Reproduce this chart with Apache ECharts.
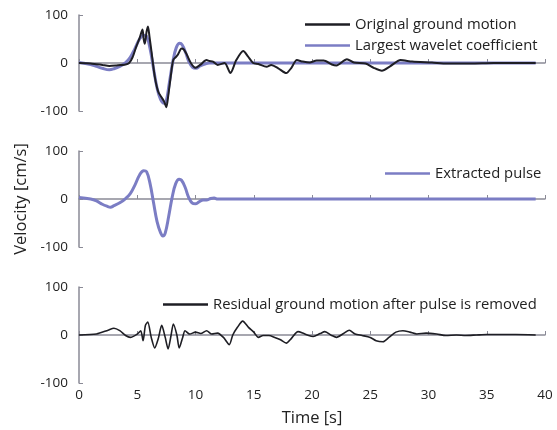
<!DOCTYPE html>
<html>
<head>
<meta charset="utf-8">
<script src="https://cdn.jsdelivr.net/npm/echarts@6/dist/echarts.min.js"></script>
<style>html,body{margin:0;padding:0;background:#fff}#c{width:557px;height:430px}</style>
</head>
<body>
<div id="c"></div>
<script>
// Time [s], velocity [cm/s]
const original = [[0,0],[1,-1],[2,-4],[2.6,-6],[3.2,-5],[4,-3],[4.3,0],[4.6,12],[4.9,33],[5.2,52],[5.45,70],[5.55,50],[5.65,40],[5.8,65],[5.92,76],[6.05,55],[6.2,28],[6.5,-28],[6.8,-60],[7.1,-72],[7.3,-80],[7.5,-92],[7.65,-70],[7.8,-42],[8.0,-5],[8.1,7],[8.3,12],[8.5,18],[8.8,30],[9.0,28],[9.2,20],[9.6,0],[10.0,-10],[10.4,-4],[10.95,6],[11.2,4],[11.5,3],[11.9,-4],[12.5,0],[13.0,-21],[13.5,6],[14.1,25],[14.5,14],[14.95,0],[15.4,-2],[16.1,-8],[16.5,-4],[17.1,-11],[17.8,-21],[18.2,-11],[18.7,6],[19.2,3],[19.8,1],[20.4,5],[21.0,5],[21.7,-3],[22.1,-5],[23.0,8],[23.6,1],[24.6,-1],[25.3,-10],[26.0,-16],[26.7,-7],[27.6,6],[28.6,3],[30.3,1],[31.6,-1],[33.6,-1],[35.6,0],[37.5,0],[39.2,0]];
const wavelet = [[0,1],[1,-3],[1.5,-7],[2,-11],[2.6,-14],[3,-12],[3.5,-7],[4,1],[4.4,12],[4.8,30],[5.2,50],[5.55,58],[5.8,56],[6.1,30],[6.4,-12],[6.7,-52],[7.0,-76],[7.3,-84],[7.5,-78],[7.75,-42],[8.05,2],[8.35,32],[8.65,41],[8.85,38],[9.15,22],[9.45,2],[9.75,-9],[10.05,-11],[10.4,-6],[10.8,-2],[11.2,0],[12,0],[20,0],[30,0],[39.2,0]];
const pulse = [[0,3],[1,0],[1.5,-4],[2,-11],[2.4,-15],[2.7,-17],[3,-14],[3.5,-8],[4,1],[4.4,11],[4.8,29],[5.2,50],[5.55,59],[5.8,57],[6.1,32],[6.4,-8],[6.7,-47],[7.0,-70],[7.2,-77],[7.4,-71],[7.7,-36],[8.0,4],[8.3,32],[8.6,41],[8.8,39],[9.1,25],[9.4,4],[9.7,-8],[10.0,-10],[10.3,-6],[10.65,-2],[10.95,-2],[11.3,1],[11.6,2],[11.9,0],[12.4,0],[20,0],[30,0],[39.2,0]];
const residual = [[0,0],[1.5,2],[2.5,10],[3,14],[3.5,9],[4,-1],[4.4,-5],[5,2],[5.3,9],[5.5,-12],[5.7,20],[5.9,27],[6.2,-5],[6.5,-27],[6.8,-8],[7.1,20],[7.4,-5],[7.65,-29],[7.9,-1],[8.1,23],[8.4,0],[8.6,-27],[8.9,-5],[9.1,9],[9.5,2],[10,6],[10.45,3],[10.95,9],[11.4,2],[11.9,4],[12.4,-5],[12.9,-20],[13.2,0],[13.6,16],[14.05,29],[14.55,16],[15.0,6],[15.4,-5],[15.8,-1],[16.3,-1],[16.8,-5],[17.3,-10],[17.8,-17],[18.2,-8],[18.8,7],[19.3,3],[19.6,0],[20.1,-3],[20.7,3],[21.1,7],[21.7,-1],[22.1,-5],[22.7,3],[23.2,10],[23.7,2],[24.3,-1],[25.0,-5],[25.5,-12],[26.1,-14],[26.6,-5],[27.2,6],[27.8,9],[28.4,6],[29.0,2],[29.8,4],[30.7,2],[31.5,-1],[32.4,0],[33.2,-1],[34.1,0],[35.0,1],[36.1,1],[37.5,1],[39.2,0]];
const xTicks = {min: 0, max: 40, interval: 5};
const yTicks = {min: -100, max: 100, interval: 100};
const names = ['Original ground motion','Largest wavelet coefficient','Extracted pulse','Residual ground motion after pulse is removed'];

const FONT = '"Open Sans"';
const AX = '#8a8a96';
const BLACK = '#1e1e24';
const PURPLE = '#7b7dc4';

function xAxis(i, labels) {
  return {
    type: 'value', gridIndex: i, min: xTicks.min, max: xTicks.max, interval: xTicks.interval,
    axisLine: {show: true, lineStyle: {color: AX, width: 1.5}},
    axisTick: {show: true, inside: true, length: 4, lineStyle: {color: AX}},
    axisLabel: {show: labels, color: '#222', fontFamily: FONT, fontSize: 13.5, margin: 5},
    splitLine: {show: false},
    name: labels ? 'Time [s]' : '', nameLocation: 'middle', nameGap: 27,
    nameTextStyle: {color: '#222', fontFamily: FONT, fontSize: 16.5}
  };
}
function yAxis(i, name) {
  return {
    type: 'value', gridIndex: i, min: yTicks.min, max: yTicks.max, interval: yTicks.interval,
    axisLine: {show: true, lineStyle: {color: AX, width: 1.5}},
    axisTick: {show: true, inside: true, length: 4, lineStyle: {color: AX}},
    axisLabel: {color: '#222', fontFamily: FONT, fontSize: 13.5, margin: 11},
    splitLine: {show: false},
    name: name || '', nameLocation: 'middle', nameGap: 37,
    nameTextStyle: {color: '#222', fontFamily: FONT, fontSize: 16.5}
  };
}
const legendText = {color: '#222', fontFamily: FONT, fontSize: 14.8};
const legendBase = {icon: 'rect', itemWidth: 45, itemHeight: 2.5, textStyle: legendText};

const option = {
  animation: false,
  grid: [
    {left: 79, right: 12, top: 15, height: 96},
    {left: 79, right: 12, top: 151, height: 96},
    {left: 79, right: 12, top: 287, height: 96}
  ],
  xAxis: [xAxis(0, false), xAxis(1, false), xAxis(2, true)],
  yAxis: [yAxis(0), yAxis(1, 'Velocity [cm/s]'), yAxis(2)],
  legend: [
    Object.assign({data: [names[0], names[1]], orient: 'vertical', left: 300, top: 12, itemGap: 6}, legendBase),
    Object.assign({data: [names[2]], left: 380, top: 161}, legendBase),
    Object.assign({data: [names[3]], left: 158, top: 292, itemWidth: 42}, legendBase)
  ],
  series: [
    {name: names[0], type: 'line', xAxisIndex: 0, yAxisIndex: 0, data: original, showSymbol: false, symbol: 'none', smooth: 0.25, z: 3,
     color: BLACK, lineStyle: {color: BLACK, width: 2}},
    {name: names[1], type: 'line', xAxisIndex: 0, yAxisIndex: 0, data: wavelet, showSymbol: false, symbol: 'none', smooth: 0.4, z: 2,
     color: PURPLE, lineStyle: {color: PURPLE, width: 3}},
    {name: names[2], type: 'line', xAxisIndex: 1, yAxisIndex: 1, data: pulse, showSymbol: false, symbol: 'none', smooth: 0.4,
     color: PURPLE, lineStyle: {color: PURPLE, width: 3}},
    {name: names[3], type: 'line', xAxisIndex: 2, yAxisIndex: 2, data: residual, showSymbol: false, symbol: 'none', smooth: 0.25,
     color: BLACK, lineStyle: {color: BLACK, width: 1.6}}
  ]
};
const chart = echarts.init(document.getElementById('c'), null, {renderer: 'canvas'});
chart.setOption(option);
</script>
</body>
</html>
